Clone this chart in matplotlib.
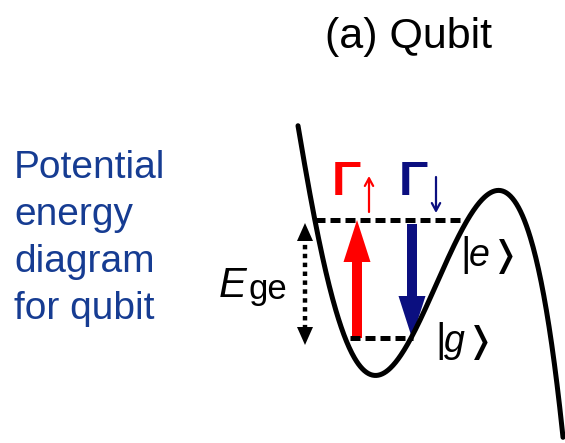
import matplotlib
matplotlib.use("Agg")
import matplotlib.pyplot as plt
import numpy as np
from matplotlib.patches import FancyArrow, Polygon

plt.rcParams["font.family"] = ["Liberation Sans", "DejaVu Sans"]

# potential curve knots (canvas units, y grows downward)
well_x = [298, 315, 328, 348, 380, 413, 440, 462, 493, 520, 547, 563]
well_y = [125, 220, 287, 338, 375, 338, 280, 220, 193, 217, 307, 440]

# energy levels and where they meet the walls
level_e = 220
level_g = 338
e_span = (315, 462)
g_span = (350, 413)

# transition arrows
up_x = 357
down_x = 412
gap_x = 305

TITLE = "(a) Qubit"
SIDE_TEXT = "Potential\nenergy\ndiagram\nfor qubit"
STATES = ["e", "g"]

RED = "#ff0000"
NAVY = "#0b0f80"
TEXT_BLUE = "#163c92"

W, H = 565, 443
fig = plt.figure(figsize=(W / 100, H / 100), dpi=100)
ax = fig.add_axes([0, 0, 1, 1])
ax.set_xlim(0, W)
ax.set_ylim(H, 0)
ax.axis("off")

# smooth potential through the knots
coef = np.polyfit(well_x, well_y, 6)
xs = np.linspace(well_x[0], well_x[-1], 400)
ax.plot(xs, np.polyval(coef, xs), color="black", lw=3.6, solid_capstyle="round")

# dashed levels
ax.plot(e_span, [level_e, level_e], color="black", lw=3.6, ls=(0, (2, 1)))
ax.plot(g_span, [level_g, level_g], color="black", lw=3.6, ls=(0, (2, 1)))

# excitation (red) and relaxation (blue) arrows
ax.add_patch(FancyArrow(up_x, level_g, 0, level_e - level_g, width=10,
                        head_width=27, head_length=42,
                        length_includes_head=True, color=RED, lw=0))
ax.add_patch(FancyArrow(down_x, level_e + 4, 0, level_g - level_e - 4, width=10,
                        head_width=27, head_length=42,
                        length_includes_head=True, color=NAVY, lw=0))

# dotted double arrow for the level spacing
ax.plot([gap_x, gap_x], [level_e + 16, level_g - 2], color="black", lw=3.2,
        ls=(0, (1, 1)))
for tip, base in [(level_e + 3, level_e + 21), (level_g + 7, level_g - 11)]:
    ax.add_patch(Polygon([[gap_x, tip], [gap_x - 8, base], [gap_x + 8, base]],
                         closed=True, color="black", lw=0))

# labels
ax.text(409, 37, TITLE, fontsize=31, ha="center", va="center", color="black")
ax.text(14, 150, SIDE_TEXT, fontsize=28, ha="left", va="top",
        color=TEXT_BLUE, linespacing=1.39)

# rate symbols with thin direction arrows
ax.text(346, 195, "Γ", fontsize=35, fontweight="bold", ha="center",
        va="baseline", color=RED)
ax.annotate("", xy=(369, 176), xytext=(369, 212),
            arrowprops=dict(arrowstyle="->,head_length=0.55,head_width=0.3",
                            color=RED, lw=1.6, shrinkA=0, shrinkB=0))
ax.text(413, 195, "Γ", fontsize=35, fontweight="bold", ha="center",
        va="baseline", color=NAVY)
ax.annotate("", xy=(436, 213), xytext=(436, 177),
            arrowprops=dict(arrowstyle="->,head_length=0.55,head_width=0.3",
                            color=NAVY, lw=1.6, shrinkA=0, shrinkB=0))

ax.text(246, 297, "E", fontsize=30, style="italic", ha="right", va="baseline")
ax.text(249, 299, "ge", fontsize=25, ha="left", va="baseline")

# state kets |e> and |g>
for name, (x0, base) in zip(STATES, [(460, 266), (435, 352)]):
    ax.text(x0, base, "|", fontsize=29, ha="left", va="baseline")
    ax.text(x0 + 9, base, name, fontsize=27, style="italic", ha="left",
            va="baseline")
    ax.text(x0 + 31, base, "❭", fontsize=25, fontweight="bold", ha="left",
            va="baseline", family=["DejaVu Sans"])

fig.savefig("out.png", dpi=100)
